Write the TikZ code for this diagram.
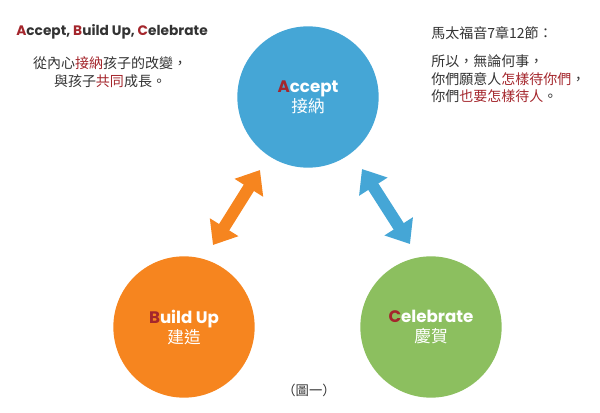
\documentclass[tikz,border=0pt]{standalone}
\usepackage{fontspec}
\setmainfont{Poppins}
\newfontfamily\cjk{Noto Sans CJK TC}
\usepackage{xcolor}
\usetikzlibrary{arrows.meta,positioning}
\definecolor{acblue}{HTML}{45A6D6}
\definecolor{buorange}{HTML}{F6851F}
\definecolor{cegreen}{HTML}{8CBF5F}
\definecolor{letterred}{HTML}{A4262C}
\definecolor{textgray}{HTML}{333333}
\newcommand{\redtxt}[1]{\textcolor{letterred}{#1}}
\tikzset{%
	stage/.style    = {circle, minimum size=106pt, inner sep=0pt, text=white, align=center, font=\bfseries\fontsize{12.5}{15}\selectfont},
	note/.style     = {text=textgray, inner sep=0pt, font=\cjk\fontsize{10.5}{13.1}\selectfont},
	bigarrow/.style = {line width=9pt, {Triangle[length=0pt 1.75, width=0pt 2.7]}-{Triangle[length=0pt 1.75, width=0pt 2.7]}},
}

\begin{document}
\begin{tikzpicture}[x=0.75pt,y=-0.75pt]
	\useasboundingbox (0,0) rectangle (600,412);
	
	% the three circles
	\node[stage, fill=acblue] (accept) at (308,97) {\redtxt{A}ccept\\{\cjk\mdseries\fontsize{12.5}{15}\selectfont 接納}};
	\node[stage, fill=buorange] (buildup) at (184,327) {\redtxt{B}uild Up\\{\cjk\mdseries\fontsize{12.5}{15}\selectfont 建造}};
	\node[stage, fill=cegreen] (celebrate) at (431,327) {\redtxt{C}elebrate\\{\cjk\mdseries\fontsize{12.5}{15}\selectfont 慶賀}};
	
	% block arrows
	\coordinate (ab1) at (260,170);
	\coordinate (ab2) at (213,245);
	\coordinate (ac1) at (362,169);
	\coordinate (ac2) at (410,244);
	\draw[bigarrow, buorange] (ab2) -- (ab1);
	\draw[bigarrow, acblue] (ac1) -- (ac2);
	
	% texts
	\node[anchor=west, text=textgray, inner sep=0pt, font=\bfseries\fontsize{10.3}{13}\selectfont] (title) at (16,32) {\redtxt{A}ccept, \redtxt{B}uild Up, \redtxt{C}elebrate};
	\node[note, align=center] (leftnote) at (110,72) {從內心\redtxt{接納}孩子的改變，\\與孩子\redtxt{共同}成長。};
	\node[note, anchor=west] (verse) at (431,33) {馬太福音7章12節：};
	\node[note, anchor=west, align=left, font=\cjk\fontsize{10.5}{13.2}\selectfont] (verselines) at (431,79) {所以，無論何事，\\你們願意人\redtxt{怎樣待你們}，\\你們\redtxt{也要怎樣待人}。};
	\node[note, font=\cjk\fontsize{10}{12}\selectfont] (caption) at (309,390) {（圖一）};
\end{tikzpicture}
\end{document}
